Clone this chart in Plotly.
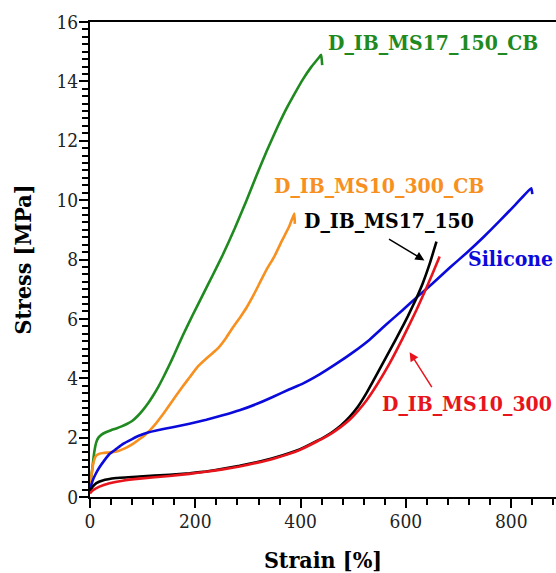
import plotly.graph_objects as go

# Tensile test curves: strain [%] vs stress [MPa]
strain_ms17_150_cb = [0, 4, 8, 12, 16, 22, 30, 40, 50, 60, 70, 80, 90, 100, 110, 120, 130, 140, 150, 160,
                      176, 195, 214, 233, 252, 275, 297, 316, 335, 355, 373, 390, 404, 420, 436, 439, 441]
stress_ms17_150_cb = [0.3, 0.9, 1.5, 1.85, 2.0, 2.1, 2.18, 2.25, 2.31, 2.38, 2.46, 2.56, 2.72, 2.92, 3.15, 3.42, 3.72, 4.06, 4.42, 4.8,
                      5.43, 6.13, 6.8, 7.47, 8.15, 9.05, 9.98, 10.82, 11.63, 12.42, 13.08, 13.63, 14.06, 14.48, 14.83, 14.9, 14.55]

strain_ms10_300_cb = [0, 4, 8, 12, 18, 25, 35, 45, 55, 65, 75, 85, 95, 105, 115, 125, 135, 145, 155, 165,
                      176, 190, 205, 220, 233, 245, 258, 271, 285, 298, 310, 322, 335, 350, 365, 378, 388, 389]
stress_ms10_300_cb = [0.3, 0.9, 1.25, 1.4, 1.46, 1.48, 1.5, 1.52, 1.56, 1.63, 1.72, 1.83, 1.96, 2.1, 2.27, 2.47, 2.7, 2.95, 3.2, 3.45,
                      3.72, 4.05, 4.4, 4.65, 4.85, 5.05, 5.35, 5.7, 6.05, 6.4, 6.78, 7.2, 7.65, 8.1, 8.65, 9.1, 9.55, 9.2]

strain_silicone = [0, 5, 10, 18, 28, 37, 50, 62, 80, 94, 110, 126, 157, 189, 221, 252, 284, 316, 347, 379,
                   404, 436, 468, 500, 531, 562, 594, 622, 651, 683, 715, 747, 778, 808, 838, 840]
stress_silicone = [0.25, 0.55, 0.75, 1.0, 1.25, 1.45, 1.62, 1.78, 1.95, 2.07, 2.17, 2.24, 2.35, 2.47, 2.6, 2.75, 2.92, 3.13, 3.37, 3.63,
                   3.82, 4.13, 4.49, 4.88, 5.3, 5.8, 6.3, 6.75, 7.2, 7.72, 8.22, 8.75, 9.3, 9.85, 10.4, 10.2]

strain_ms17_150 = [0, 5, 12, 24, 50, 94, 151, 189, 220, 252, 284, 316, 350, 398, 430, 445, 461, 477, 493, 509,
                   525, 540, 556, 572, 588, 604, 620, 632, 645, 658]
stress_ms17_150 = [0.2, 0.35, 0.47, 0.56, 0.64, 0.69, 0.75, 0.8, 0.86, 0.95, 1.05, 1.17, 1.32, 1.6, 1.88, 2.02, 2.2, 2.42, 2.7, 3.05,
                   3.5, 3.98, 4.5, 5.02, 5.55, 6.1, 6.7, 7.2, 7.85, 8.6]

strain_ms10_300 = [0, 5, 18, 37, 62, 94, 151, 189, 220, 252, 284, 316, 350, 398, 430, 445, 461, 477, 493, 509,
                   525, 545, 569, 594, 620, 639, 650, 664]
stress_ms10_300 = [0.12, 0.22, 0.35, 0.46, 0.55, 0.62, 0.71, 0.78, 0.85, 0.93, 1.03, 1.15, 1.3, 1.58, 1.86, 2.0, 2.17, 2.37, 2.6, 2.9,
                   3.25, 3.78, 4.5, 5.35, 6.3, 7.05, 7.5, 8.1]

series = [
    ("D_IB_MS17_150_CB", strain_ms17_150_cb, stress_ms17_150_cb, "#1f8a1f"),
    ("D_IB_MS10_300_CB", strain_ms10_300_cb, stress_ms10_300_cb, "#f7901e"),
    ("Silicone", strain_silicone, stress_silicone, "#0a0adc"),
    ("D_IB_MS17_150", strain_ms17_150, stress_ms17_150, "#000000"),
    ("D_IB_MS10_300", strain_ms10_300, stress_ms10_300, "#e8141c"),
]

FONT = "DejaVu Serif Condensed, DejaVu Serif"
X_RANGE = [0, 885]
Y_RANGE = [0, 16]
X_MAJOR, X_MINOR = 200, 40
Y_MAJOR, Y_MINOR = 2, 0.25

# Tick positions every minor step; only major positions carry a label
x_ticks = [i * X_MINOR for i in range(int(X_RANGE[1] // X_MINOR) + 1)]
x_text = [str(v) if v % X_MAJOR == 0 else "" for v in x_ticks]
y_ticks = [i * Y_MINOR for i in range(int(round(Y_RANGE[1] / Y_MINOR)) + 1)]
y_text = [str(int(v)) if abs(v / Y_MAJOR - round(v / Y_MAJOR)) < 1e-9 else "" for v in y_ticks]
x_major = [v for v in x_ticks if v % X_MAJOR == 0]
y_major = [v for v, t in zip(y_ticks, y_text) if t]

fig = go.Figure()
for name, xs, ys, color in series:
    fig.add_trace(go.Scatter(
        x=xs, y=ys, mode="lines", name=name,
        line=dict(color=color, width=2.6, shape="spline", smoothing=0.4),
        showlegend=False,
    ))

# Invisible point that carries the overlay axes used for the longer major ticks
fig.add_trace(go.Scatter(
    x=[X_RANGE[0]], y=[Y_RANGE[0]], xaxis="x2", yaxis="y2", mode="markers",
    marker=dict(opacity=0, size=1), showlegend=False, hoverinfo="skip",
))

# Curve labels
labels = [
    ("D_IB_MS17_150_CB", 449, 15.32, "#1f8a1f"),
    ("D_IB_MS10_300_CB", 346, 10.5, "#f7901e"),
    ("D_IB_MS17_150", 403, 9.32, "#000000"),
    ("Silicone", 714, 8.04, "#0a0adc"),
    ("D_IB_MS10_300", 550, 3.14, "#e8141c"),
]
for text, x, y, color in labels:
    fig.add_annotation(
        x=x, y=y, xref="x", yref="y", text=f"<b>{text}</b>", showarrow=False,
        xanchor="left", yanchor="middle",
        font=dict(family=FONT, size=21, color=color),
    )

# Pointer arrows
arrows = [
    (635, 7.97, 565, 8.72, "#000000"),
    (607, 4.88, 651, 3.65, "#e8141c"),
]
for hx, hy, tx, ty, color in arrows:
    fig.add_annotation(
        x=hx, y=hy, ax=tx, ay=ty, xref="x", yref="y", axref="x", ayref="y",
        text="", showarrow=True, arrowhead=2, arrowsize=1.2, arrowwidth=1.5, arrowcolor=color,
    )

fig.update_layout(
    width=556, height=573,
    margin=dict(l=90, r=0, t=22, b=76),
    paper_bgcolor="white", plot_bgcolor="white",
    font=dict(family=FONT, color="#000000"),
    xaxis=dict(
        range=X_RANGE, tickmode="array", tickvals=x_ticks, ticktext=x_text,
        ticks="outside", ticklen=6, tickwidth=2, tickcolor="black",
        showline=True, linewidth=2, linecolor="black", mirror=True,
        showgrid=False, zeroline=False,
        tickfont=dict(family=FONT, size=19, color="#222"),
        title=dict(text="<b>Strain [%]</b>", font=dict(family=FONT, size=23), standoff=26),
    ),
    yaxis=dict(
        range=Y_RANGE, tickmode="array", tickvals=y_ticks, ticktext=y_text,
        ticks="outside", ticklen=6, tickwidth=2, tickcolor="black",
        showline=True, linewidth=2, linecolor="black", mirror=False,
        showgrid=False, zeroline=False,
        tickfont=dict(family=FONT, size=19, color="#222"),
        title=dict(text="<b>Stress [MPa]</b>", font=dict(family=FONT, size=23), standoff=18),
    ),
    # longer major ticks
    xaxis2=dict(
        overlaying="x", anchor="y2", side="bottom", range=X_RANGE,
        tickmode="array", tickvals=x_major, ticks="outside", ticklen=10, tickwidth=2,
        tickcolor="black", showticklabels=False, showline=False, showgrid=False, zeroline=False,
    ),
    yaxis2=dict(
        overlaying="y", anchor="x2", side="left", range=Y_RANGE,
        tickmode="array", tickvals=y_major, ticks="outside", ticklen=10, tickwidth=2,
        tickcolor="black", showticklabels=False, showline=False, showgrid=False, zeroline=False,
    ),
)

fig.write_html("out.html")
